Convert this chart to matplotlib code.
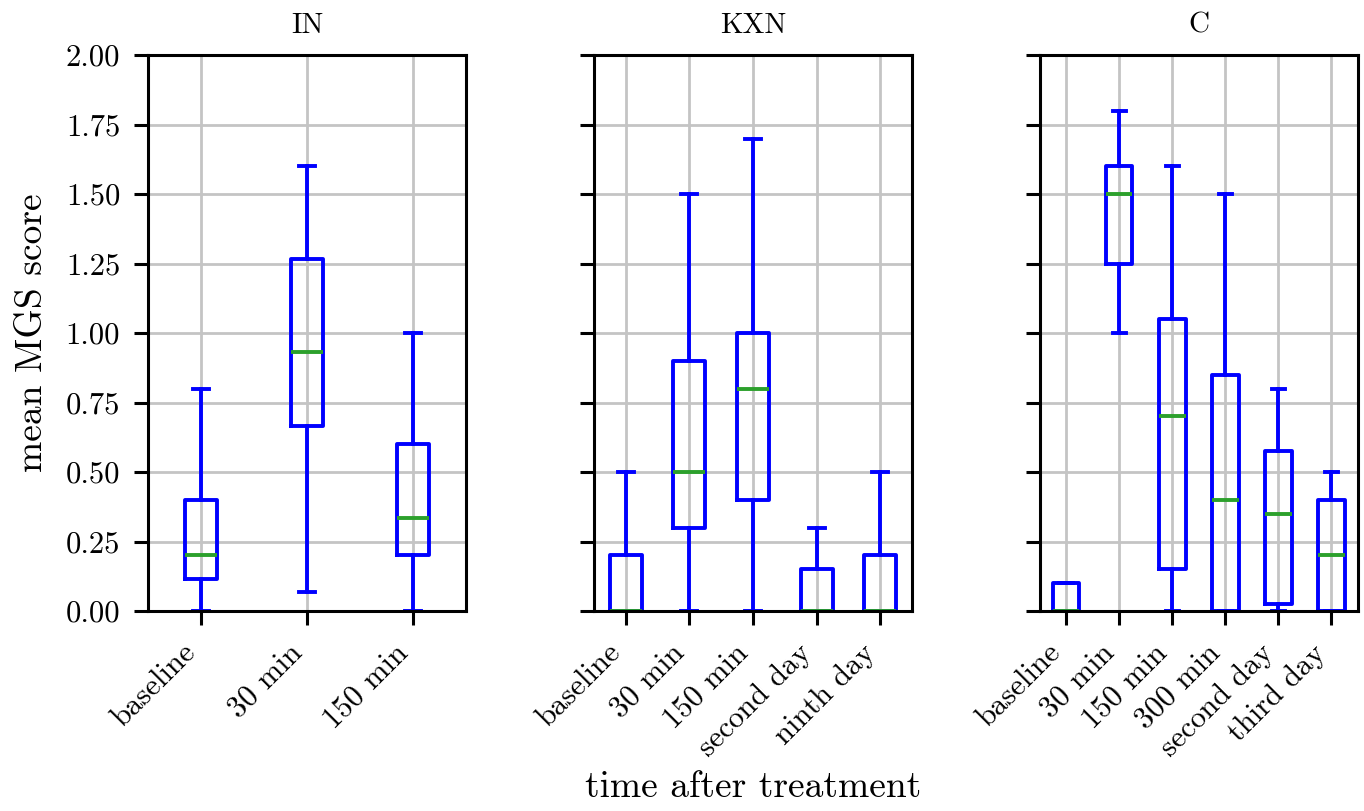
import numpy as np
import matplotlib
matplotlib.use("Agg")
import matplotlib.pyplot as plt

plt.rcParams['font.family'] = ['cmr10', 'DejaVu Serif']
plt.rcParams['mathtext.fontset'] = 'cm'
plt.rcParams['axes.formatter.use_mathtext'] = True

# box statistics: low whisker, Q1, median, Q3, high whisker
in_labels = ['baseline', '30 min', '150 min']
in_lo = [0.0, 0.067, 0.0]
in_q1 = [0.114, 0.667, 0.2]
in_med = [0.2, 0.933, 0.333]
in_q3 = [0.4, 1.267, 0.6]
in_hi = [0.8, 1.6, 1.0]

kxn_labels = ['baseline', '30 min', '150 min', 'second day', 'ninth day']
kxn_lo = [0.0, 0.0, 0.0, 0.0, 0.0]
kxn_q1 = [0.0, 0.3, 0.4, 0.0, 0.0]
kxn_med = [0.0, 0.5, 0.8, 0.0, 0.0]
kxn_q3 = [0.2, 0.9, 1.0, 0.15, 0.2]
kxn_hi = [0.5, 1.5, 1.7, 0.3, 0.5]

c_labels = ['baseline', '30 min', '150 min', '300 min', 'second day', 'third day']
c_lo = [0.0, 1.0, 0.0, 0.0, 0.0, 0.0]
c_q1 = [0.0, 1.25, 0.15, 0.0, 0.025, 0.0]
c_med = [0.0, 1.5, 0.7, 0.4, 0.35, 0.2]
c_q3 = [0.1, 1.6, 1.05, 0.85, 0.577, 0.4]
c_hi = [0.1, 1.8, 1.6, 1.5, 0.8, 0.5]

groups = [
    ('IN', in_labels, in_lo, in_q1, in_med, in_q3, in_hi),
    ('KXN', kxn_labels, kxn_lo, kxn_q1, kxn_med, kxn_q3, kxn_hi),
    ('C', c_labels, c_lo, c_q1, c_med, c_q3, c_hi),
]

fig, axes = plt.subplots(1, 3, sharey=True, figsize=(13.64, 8.11), dpi=100)
fig.subplots_adjust(left=0.1085, right=0.9956, top=0.932, bottom=0.2466, wspace=0.4)

blue = '#0000ff'
green = '#2ca02c'
lw = 2.8

for ax, (name, labels, lo, q1, med, q3, hi) in zip(axes, groups):
    stats = []
    for i in range(len(labels)):
        stats.append({'whislo': lo[i], 'q1': q1[i], 'med': med[i],
                      'q3': q3[i], 'whishi': hi[i], 'fliers': []})
    n = len(labels)
    width = min(max(0.15 * (n - 1), 0.15), 0.5)
    ax.bxp(stats, positions=np.arange(1, n + 1), widths=width, showfliers=False,
           boxprops=dict(color=blue, linewidth=lw),
           whiskerprops=dict(color=blue, linewidth=lw),
           capprops=dict(color=blue, linewidth=lw),
           medianprops=dict(color=green, linewidth=lw))
    ax.set_xlim(0.5, n + 0.5)
    ax.set_xticks(np.arange(1, n + 1))
    ax.set_xticklabels(labels, rotation=45, ha='right')
    ax.set_title(name, fontsize=21, pad=16)
    ax.grid(True, color='#c4c4c4', linewidth=2.0)
    ax.set_axisbelow(True)
    for sp in ax.spines.values():
        sp.set_linewidth(2.2)
    ax.tick_params(labelsize=22, length=10, width=2.2, pad=10)

axes[0].set_ylim(0, 2.0)
axes[0].set_yticks(np.arange(0, 2.01, 0.25))
axes[0].set_yticklabels(['%.2f' % v for v in np.arange(0, 2.01, 0.25)])
axes[0].set_ylabel('mean MGS score', fontsize=27, labelpad=12)
axes[1].set_xlabel('time after treatment', fontsize=27, labelpad=6)

fig.savefig('out.png', dpi=100)
